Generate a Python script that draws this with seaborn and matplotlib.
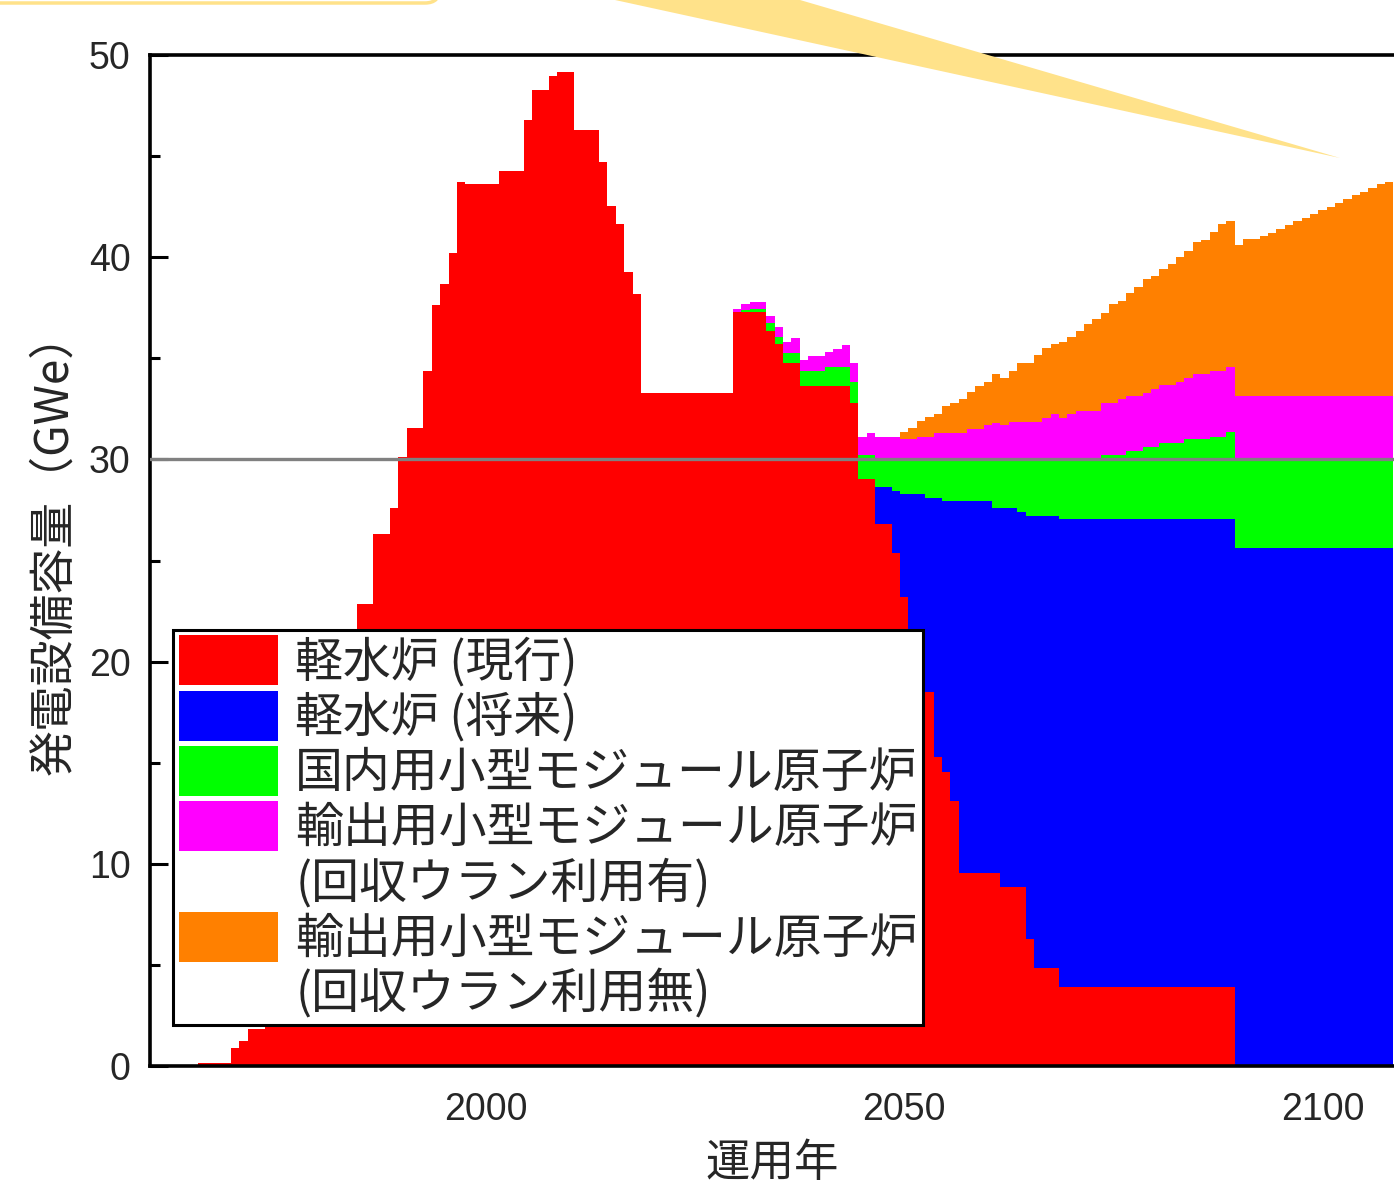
import matplotlib
matplotlib.use("Agg")
import matplotlib.pyplot as plt
from matplotlib.patches import Patch, Polygon, FancyBboxPatch
from matplotlib.ticker import FixedLocator, MultipleLocator
import numpy as np
import pandas as pd
import seaborn as sns

# ---------------------------------------------------------------------------
# Installed generating capacity by reactor type (GWe), one value per year
# ---------------------------------------------------------------------------
years = list(range(1966, 2109))

lwr_current = (
    [0.16, 0.16, 0.16, 0.16]                                                   # 1966-1969
    + [0.87, 1.24, 1.81, 1.81, 3.9, 5.3, 7.0, 7.9, 10.9, 13.8]                 # 1970s
    + [14.9, 15.8, 17.1, 18.3, 20.9, 22.86, 22.86, 26.3, 26.3, 27.58]          # 1980s
    + [30.1, 31.54, 31.54, 34.39, 37.65, 38.69, 40.19, 43.73, 43.6, 43.6]      # 1990s
    + [43.6, 43.6, 44.28, 44.28, 44.28, 46.8, 48.28, 48.28, 48.98, 49.17]      # 2000s
    + [49.17, 46.27, 46.27, 46.27, 44.69, 42.53, 41.63, 39.25, 38.2, 33.28]    # 2010s
    + [33.28] * 10                                                             # 2020s
    + [37.27, 37.27, 37.27, 37.27, 36.37, 35.69, 34.75, 34.75, 33.65, 33.65]   # 2030s
    + [33.65, 33.65, 33.65, 33.65, 32.77, 29.01, 29.01, 26.8, 26.8, 25.39]     # 2040s
    + [23.21, 20.9, 19.9, 18.51, 15.3, 14.56, 13.1, 9.53, 9.53, 9.53]          # 2050s
    + [9.53, 9.53, 8.84, 8.84, 8.84, 6.28, 4.86, 4.86, 4.86, 3.92]             # 2060s
    + [3.92] * 20                                                              # 2070-2089
    + [0.0] * 19                                                               # 2090-2108
)

lwr_future = (
    [0.0] * 81                                                                 # 1966-2046
    + [1.82, 1.82, 3.07]                                                       # 2047-2049
    + [5.07, 7.38, 8.38, 9.59, 12.8, 13.38, 14.84, 18.41, 18.41, 18.41]        # 2050s
    + [18.41, 18.05, 18.74, 18.74, 18.57, 20.92, 22.34, 22.34, 22.34, 23.11]   # 2060s
    + [23.11] * 20                                                             # 2070-2089
    + [25.6] * 19                                                              # 2090-2108
)

smr_domestic = (
    [0.0] * 65                                                                 # 1966-2030
    + [0.1, 0.17, 0.17, 0.36, 0.35, 0.52, 0.52, 0.74, 0.74]                    # 2031-2039
    + [0.74, 0.9, 0.9, 0.9, 1.07, 1.21, 1.21, 1.38, 1.38, 1.54]                # 2040s
    + [1.72, 1.72, 1.72, 1.9, 1.9, 2.06, 2.06, 2.06, 2.06, 2.06]               # 2050s
    + [2.06, 2.42, 2.42, 2.42, 2.59, 2.8, 2.8, 2.8, 2.8, 2.97]                 # 2060s
    + [2.97, 2.97, 2.97, 2.97, 3.19, 3.19, 3.19, 3.39, 3.39, 3.59]             # 2070s
    + [3.59, 3.76, 3.76, 3.76, 3.96, 3.96, 3.96, 4.09, 4.09, 4.31]             # 2080s
    + [4.4] * 19                                                               # 2090-2108
)

smr_export_ru = (
    [0.0] * 64                                                                 # 1966-2029
    + [0.17, 0.3, 0.36, 0.36, 0.38, 0.53, 0.55, 0.75, 0.53, 0.72]              # 2030s
    + [0.72, 0.74, 0.91, 1.11, 0.91, 0.87, 1.1, 1.12, 1.12, 1.12]              # 2040s
    + [0.99, 0.99, 1.12, 1.12, 1.32, 1.32, 1.32, 1.32, 1.52, 1.52]             # 2050s
    + [1.69, 1.8, 1.69, 1.87, 1.87, 1.87, 1.87, 2.06, 2.23, 2.06]              # 2060s
    + [2.23, 2.41, 2.41, 2.41, 2.55, 2.55, 2.75, 2.73, 2.73, 2.68]             # 2070s
    + [2.86, 2.87, 2.87, 3.05, 3.03, 3.21, 3.21, 3.27, 3.27, 3.24]             # 2080s
    + [3.15] * 19                                                              # 2090-2108
)

smr_export_nru = (
    [0.0] * 84                                                                 # 1966-2049
    + [0.35, 0.55, 0.78, 0.96, 0.92, 1.31, 1.47, 1.65, 1.8, 2.13]              # 2050s
    + [2.16, 2.43, 2.36, 2.52, 2.89, 2.89, 3.28, 3.44, 3.47, 3.77]             # 2060s
    + [3.81, 3.96, 4.31, 4.52, 4.49, 4.91, 4.84, 5.06, 5.4, 5.6]               # 2070s
    + [5.61, 5.78, 5.99, 6.16, 6.31, 6.54, 6.67, 6.84, 7.23, 7.19]             # 2080s
    + [7.45, 7.73, 7.73, 7.89, 8.07, 8.25, 8.44, 8.62, 8.8, 8.98]              # 2090s
    + [9.16, 9.34, 9.54, 9.71, 9.91, 10.09, 10.25, 10.45, 10.58]               # 2100-2108
)

series_names = [
    "軽水炉 (現行)",
    "軽水炉 (将来)",
    "国内用小型モジュール原子炉",
    "輸出用小型モジュール原子炉 (回収ウラン利用有)",
    "輸出用小型モジュール原子炉 (回収ウラン利用無)",
]
series_colors = ["#ff0000", "#0000ff", "#00ff00", "#ff00ff", "#ff8000"]
series_values = [lwr_current, lwr_future, smr_domestic, smr_export_ru, smr_export_nru]

legend_rows = [
    ("軽水炉 (現行)", "#ff0000"),
    ("軽水炉 (将来)", "#0000ff"),
    ("国内用小型モジュール原子炉", "#00ff00"),
    ("輸出用小型モジュール原子炉", "#ff00ff"),
    ("(回収ウラン利用有)", None),
    ("輸出用小型モジュール原子炉", "#ff8000"),
    ("(回収ウラン利用無)", None),
]

x_major = [2000, 2050, 2100]
x_minor = [1975, 2025, 2075]
target_line = 30

# ---------------------------------------------------------------------------
df = pd.DataFrame({
    "year": np.tile(years, len(series_names)),
    "type": np.repeat(series_names, len(years)),
    "capacity": np.concatenate(series_values),
})

sns.set_style("white")
plt.rcParams["font.family"] = ["Liberation Sans", "Noto Sans CJK JP", "DejaVu Sans"]
CJK = ["Noto Sans CJK JP", "DejaVu Sans"]

W, H = 1394, 1188
fig = plt.figure(figsize=(W / 100, H / 100), dpi=100)
ax = fig.add_axes([150 / W, (H - 1066) / H, (W - 150) / W, (1066 - 55) / H])

# seaborn stacks the last hue level at the bottom
sns.histplot(
    data=df, x="year", weights="capacity", hue="type",
    hue_order=series_names[::-1],
    palette=dict(zip(series_names, series_colors)),
    multiple="stack", discrete=True, element="step", fill=True,
    alpha=1, linewidth=0, legend=False, ax=ax,
)

ax.axhline(target_line, color="#808080", lw=2.4, zorder=3)

ax.set_xlim(1959.8, 2108.56)
ax.set_ylim(0, 50)
ax.xaxis.set_major_locator(FixedLocator(x_major))
ax.xaxis.set_minor_locator(FixedLocator(x_minor))
ax.yaxis.set_major_locator(MultipleLocator(10))
ax.yaxis.set_minor_locator(MultipleLocator(5))

for side in ["left", "bottom", "top"]:
    ax.spines[side].set_visible(True)
    ax.spines[side].set_color("black")
    ax.spines[side].set_linewidth(2.6)
ax.spines["right"].set_visible(False)

ax.tick_params(which="both", direction="in", top=False, right=False,
               bottom=True, left=True, color="black", width=2.2)
ax.tick_params(axis="y", which="major", length=13, pad=14, labelsize=27)
ax.tick_params(axis="y", which="minor", length=7)
ax.tick_params(axis="x", which="major", length=11, pad=19, labelsize=27)
ax.tick_params(axis="x", which="minor", length=5.5)

ax.set_xlabel("運用年", family=CJK, fontsize=32)
ax.set_ylabel("発電設備容量（GWe）", family=CJK, fontsize=33)
ax.xaxis.set_label_coords(0.5, -0.073)
ax.yaxis.set_label_coords(-0.058, 0.517)

handles = [Patch(facecolor=c, edgecolor="none") if c else Patch(facecolor="none", edgecolor="none")
           for _, c in legend_rows]
leg = ax.legend(
    handles, [t for t, _ in legend_rows],
    loc="lower left", bbox_to_anchor=((173 - 150) / (W - 150), (1066 - 1025) / (1066 - 55)),
    borderaxespad=0, prop={"family": CJK, "size": 34.5},
    handlelength=2.08, handleheight=1.226, handletextpad=0.35,
    labelspacing=0.067, borderpad=0.12, fancybox=False, framealpha=1,
    edgecolor="black",
)
leg.get_frame().set_linewidth(2.2)
leg.set_zorder(6)

# callout pointer and box edge from the surrounding layout
wedge = Polygon([(615 / W, 1.0), (800 / W, 1.0), (1340 / W, 1 - 158 / H)],
                closed=True, transform=fig.transFigure, facecolor="#ffe28a",
                edgecolor="none", zorder=10)
fig.add_artist(wedge)
box = FancyBboxPatch((-0.5, (H - 3) / 100), 0.5 + 4.4, 2.0,
                     boxstyle="round,pad=0,rounding_size=0.15",
                     transform=fig.dpi_scale_trans, facecolor="white",
                     edgecolor="#ffe28a", lw=2.5, zorder=10)
fig.add_artist(box)

fig.savefig("out.png", dpi=100)
